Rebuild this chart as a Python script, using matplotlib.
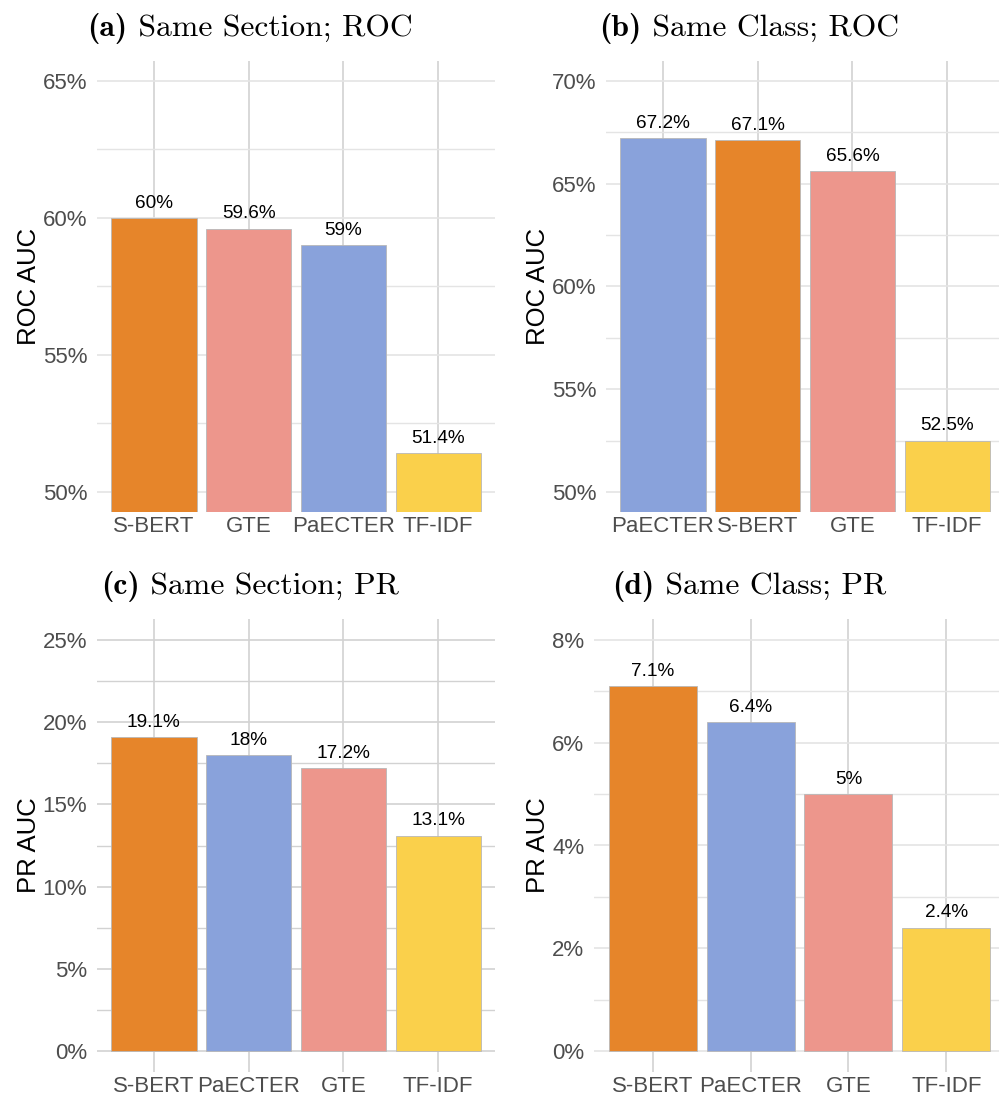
import matplotlib
matplotlib.use("Agg")
import matplotlib.pyplot as plt
from matplotlib.ticker import MultipleLocator, FuncFormatter

# ---- data -------------------------------------------------------------
models_a = ["S-BERT", "GTE", "PaECTER", "TF-IDF"]
values_a = [60.0, 59.6, 59.0, 51.4]

models_b = ["PaECTER", "S-BERT", "GTE", "TF-IDF"]
values_b = [67.2, 67.1, 65.6, 52.5]

models_c = ["S-BERT", "PaECTER", "GTE", "TF-IDF"]
values_c = [19.1, 18.0, 17.2, 13.1]

models_d = ["S-BERT", "PaECTER", "GTE", "TF-IDF"]
values_d = [7.1, 6.4, 5.0, 2.4]

titles = ["(a)", "(b)", "(c)", "(d)"]
subtitles = ["Same Section; ROC", "Same Class; ROC",
             "Same Section; PR", "Same Class; PR"]
ylabels = ["ROC AUC", "ROC AUC", "PR AUC", "PR AUC"]

model_colors = {
    "S-BERT": "#E6852A",
    "GTE": "#ED968C",
    "PaECTER": "#89A2DB",
    "TF-IDF": "#FAD04B",
}

# ---- figure -----------------------------------------------------------
W, H = 999, 1099
fig = plt.figure(figsize=(W / 100, H / 100), dpi=100)

def frac_box(left, right, top, bottom):
    return [left / W, 1 - bottom / H, (right - left) / W, (bottom - top) / H]

panels = [
    dict(models=models_a, values=values_a, box=frac_box(97, 495, 60.5, 512),
         ylim=(49.26, 65.75), major=5, minor=2.5, hgrid="#e4e4e4"),
    dict(models=models_b, values=values_b, box=frac_box(606, 1004, 60.5, 512),
         ylim=(49.03, 70.99), major=5, minor=2.5, hgrid="#e4e4e4"),
    dict(models=models_c, values=values_c, box=frac_box(97, 495, 619, 1072),
         ylim=(-1.28, 26.28), major=5, minor=2.5, hgrid="#d2d2d2"),
    dict(models=models_d, values=values_d, box=frac_box(594, 1005, 619, 1072),
         ylim=(-0.41, 8.41), major=2, minor=1, hgrid="#e4e4e4"),
]

tick_size = 16.0
tick_font = dict(family="Liberation Sans", size=tick_size, color="#4D4D4D")
title_size = 22.8

heading_parts = []
for i, p in enumerate(panels):
    ax = fig.add_axes(p["box"])
    x = list(range(len(p["models"])))
    cols = [model_colors[m] for m in p["models"]]
    ax.bar(x, p["values"], width=0.9, color=cols,
           edgecolor="#b8b8b8", linewidth=0.6, zorder=2)
    for xi, v in zip(x, p["values"]):
        ax.annotate(f"{v:g}%", (xi, v), xytext=(0, 7.5), textcoords="offset points",
                    ha="center", va="baseline", fontsize=13.7,
                    family="Liberation Sans", color="black", zorder=3)

    ax.set_xlim(-0.6, len(x) - 0.4)
    ax.set_ylim(*p["ylim"])
    ax.set_xticks(x)
    ax.set_xticklabels(p["models"], **tick_font)
    ax.yaxis.set_major_locator(MultipleLocator(p["major"]))
    ax.yaxis.set_minor_locator(MultipleLocator(p["minor"]))
    ax.yaxis.set_major_formatter(FuncFormatter(lambda v, _: f"{v:g}%"))
    for lab in ax.get_yticklabels():
        lab.set_fontfamily("Liberation Sans")
    ax.tick_params(axis="y", which="major", labelsize=tick_size,
                   labelcolor="#4D4D4D", length=0, pad=7)
    ax.tick_params(axis="y", which="minor", length=0)
    ax.tick_params(axis="x", length=0, pad=3)

    ax.set_axisbelow(True)
    ax.grid(axis="y", which="major", color=p["hgrid"], linewidth=1.2, zorder=0)
    ax.grid(axis="y", which="minor", color=p["hgrid"], linewidth=1.0, zorder=0)
    ax.grid(axis="x", which="major", color="#d6d6d6", linewidth=1.3, zorder=0)
    for s in ax.spines.values():
        s.set_visible(False)
    ax.set_facecolor("white")

    ax.set_ylabel(ylabels[i], family="Liberation Sans", fontsize=18.5,
                  color="black", labelpad=1.5)

    # panel heading: bold tag + roman subtitle, centred over each half
    cx = 0.25 if i % 2 == 0 else 0.75
    cy = 1 - (28 if i < 2 else 586) / H
    tag = fig.text(cx, cy, titles[i], ha="left", va="center",
                   fontsize=title_size, family="cmb10")
    sub = fig.text(cx, cy, " " + subtitles[i], ha="left", va="center",
                   fontsize=title_size, family="cmr10")
    heading_parts.append((cx, tag, sub))

fig.canvas.draw()
renderer = fig.canvas.get_renderer()
for cx, tag, sub in heading_parts:
    wt = tag.get_window_extent(renderer).width / (W)
    ws = sub.get_window_extent(renderer).width / (W)
    start = cx - (wt + ws) / 2
    tag.set_x(start)
    sub.set_x(start + wt)

fig.savefig("out.png", dpi=100, facecolor="white")
